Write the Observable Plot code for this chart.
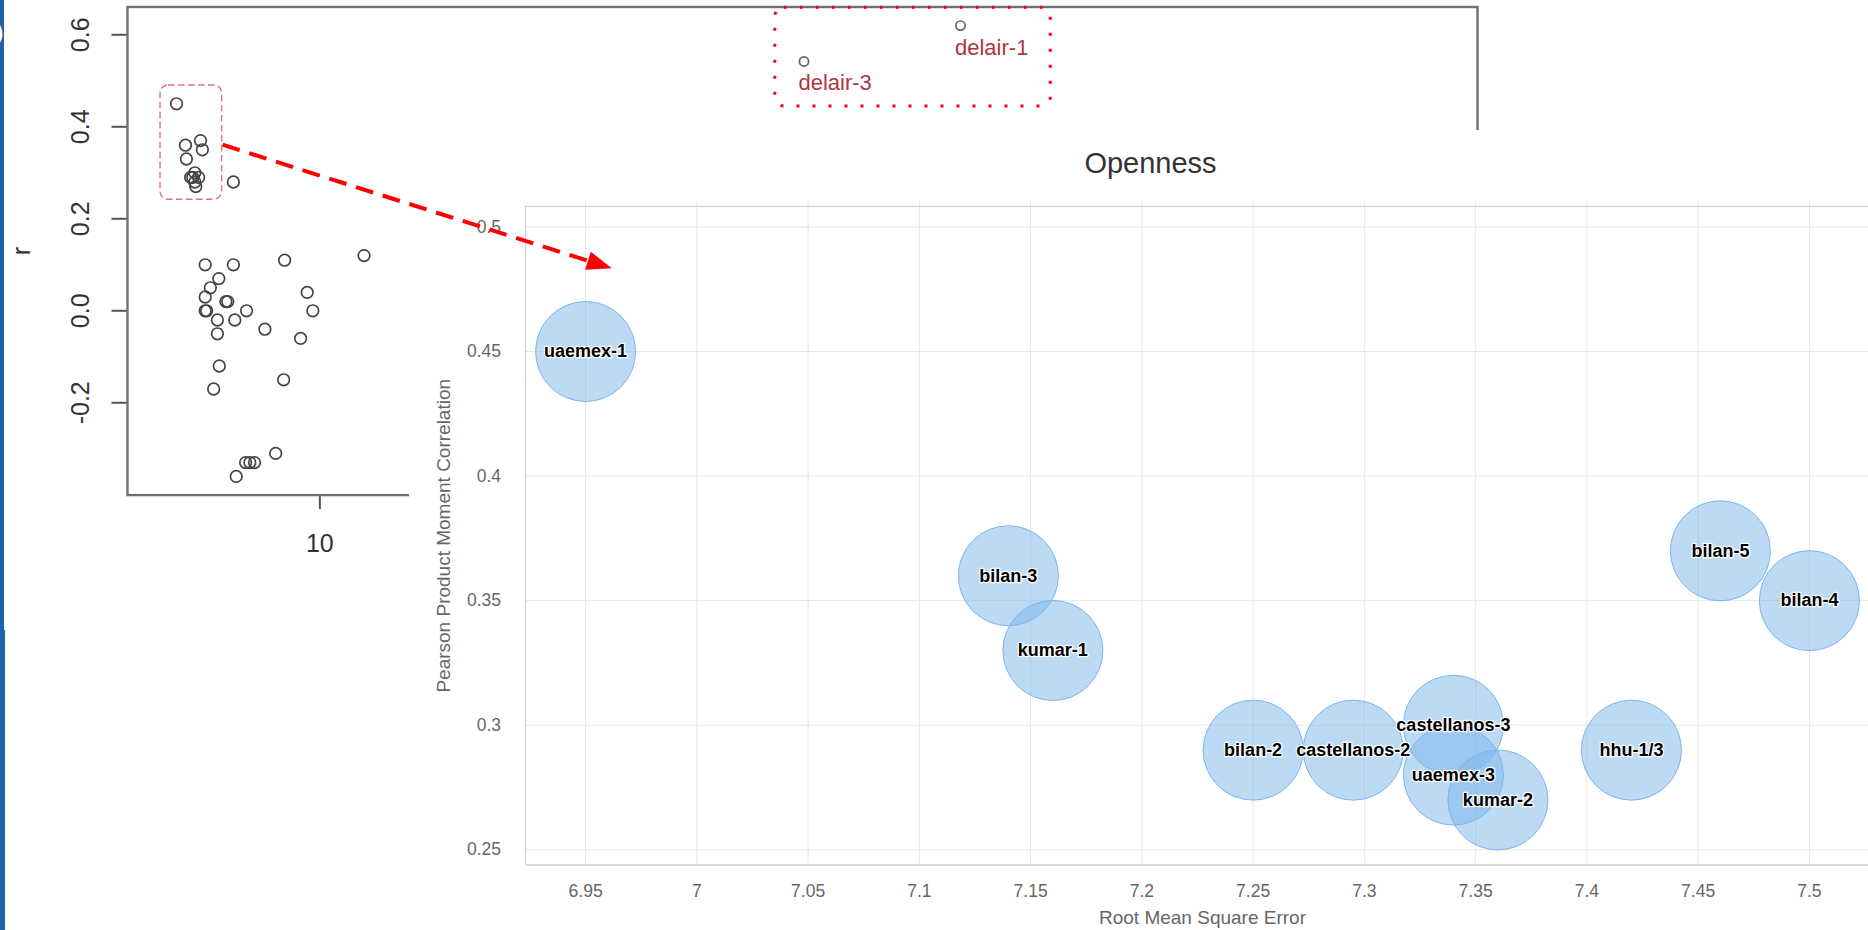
<!DOCTYPE html>
<html>
<head>
<meta charset="utf-8">
<script src="https://cdn.jsdelivr.net/npm/d3@7"></script>
<script src="https://cdn.jsdelivr.net/npm/@observablehq/plot@0.6"></script>
<style>
  html, body { margin: 0; padding: 0; background: #fff; overflow: hidden; }
  #stage { position: relative; width: 1868px; height: 930px; overflow: hidden; background: #fff; }
  #stage > svg { position: absolute; }
  .edge { position: absolute; left: 0; background: #1e63a9; overflow: hidden; }
  .edge span { position: absolute; color: #fff; font: 40px "Liberation Sans", Arial, sans-serif; }
</style>
</head>
<body>
<div id="stage">
  <div class="edge" style="top:0;width:4px;height:630px"><span style="left:-27px;top:12px">O</span></div>
  <div class="edge" style="top:630px;width:5px;height:300px"></div>
</div>
<script>
const FONT = '"Liberation Sans", Arial, Helvetica, sans-serif';

// ---- Openness: RMSE vs. Pearson r for the best-scoring runs ----
const runs    = ["uaemex-1", "bilan-3", "kumar-1", "bilan-2", "castellanos-2", "castellanos-3", "uaemex-3", "kumar-2", "hhu-1/3", "bilan-5", "bilan-4"];
const rmse    = [6.95, 7.14, 7.16, 7.25, 7.295, 7.34, 7.34, 7.36, 7.42, 7.46, 7.50];
const pearson = [0.45, 0.36, 0.33, 0.29, 0.29, 0.30, 0.28, 0.27, 0.29, 0.37, 0.35];

// ---- remaining runs of the overview scatter (RMSE, r) ----
const otherRmse = [8.16, 7.56, 8.16, 7.85, 7.67, 7.56, 7.56, 7.59, 8.00, 8.04, 7.82, 8.19, 8.44, 7.82, 8.83, 9.25, 9.73, 9.85, 9.59, 10.94, 7.86, 7.74, 9.23, 9.06, 8.42, 8.51, 8.61, 8.22];
const otherR    = [0.28, 0.10, 0.10, 0.07, 0.05, 0.03, 0.00, 0.00, 0.02, 0.02, -0.02, -0.02, 0.00, -0.05, -0.04, 0.11, 0.04, 0.00, -0.06, 0.12, -0.12, -0.17, -0.15, -0.31, -0.33, -0.33, -0.33, -0.36];

// ---- outliers called out on the overview ----
const outlierRuns = ["delair-1", "delair-3"];
const outlierRmse = [23.63, 20.30];
const outlierR    = [0.62, 0.542];

// ---- axis ticks ----
const overviewXTicks = [10, 15, 20, 25, 30];
const overviewYTicks = [-0.2, 0, 0.2, 0.4, 0.6];
const insetXTicks = [6.95, 7, 7.05, 7.1, 7.15, 7.2, 7.25, 7.3, 7.35, 7.4, 7.45, 7.5];
const insetYTicks = [0.25, 0.3, 0.35, 0.4, 0.45, 0.5];

// ---- scale extents ----
const overviewXDomain = [5.907, 34.63];
const overviewYDomain = [-0.4007, 0.6604];
const insetXDomain = [6.923, 7.5315];
const insetYDomain = [0.2439, 0.5082];

// ---- callouts, in overview data units ----
const zoomBox    = {x1: 6.61, x2: 7.92, y1: 0.2413, y2: 0.4898};
const outlierBox = {x1: 19.69, x2: 25.55, y1: 0.4441, y2: 0.6587};
const arrowFrom  = [7.94, 0.36];   // overview (RMSE, r)
const arrowTo    = [6.962, 0.4832]; // inset (RMSE, r)

const bubbles = runs.map((run, i) => ({run, rmse: rmse[i], r: pearson[i]}));
const overviewPoints = rmse.map((x, i) => ({x, y: pearson[i]}))
  .concat(otherRmse.map((x, i) => ({x, y: otherR[i]})));
const outliers = outlierRuns.map((run, i) => ({run, x: outlierRmse[i], y: outlierR[i]}));

const stage = document.getElementById("stage");

// ---------- overview scatter (all runs) ----------
const overview = Plot.plot({
  width: 1868,
  height: 560,
  marginLeft: 127,
  marginRight: 391,
  marginTop: 6.5,
  marginBottom: 65.4,
  x: {domain: overviewXDomain, label: null},
  y: {domain: overviewYDomain, label: null},
  style: {background: "transparent", fontFamily: FONT, overflow: "visible"},
  marks: [
    Plot.axisY(overviewYTicks, {tickSize: 15.5, tickFormat: () => "", stroke: "#555", strokeWidth: 2}),
    Plot.text(overviewYTicks, {y: (d) => d, frameAnchor: "left", dx: -46.3, rotate: -90, textAnchor: "middle",
      text: (d) => d.toFixed(1), fontSize: 25, fill: "#333"}),
    Plot.axisX(overviewXTicks, {tickSize: 14.5, tickPadding: 25, fontSize: 25, stroke: "#555",
      strokeWidth: 2, fill: "#333", tickFormat: (d) => String(d)}),
    Plot.text(["r"], {text: (d) => d, frameAnchor: "left", dx: -106, rotate: -90, textAnchor: "middle",
      fontSize: 25, fill: "#333"}),
    Plot.frame({stroke: "#707070", strokeWidth: 2.4}),
    Plot.dot(overviewPoints, {x: "x", y: "y", r: 5.8, stroke: "#444", strokeWidth: 1.7, fill: "none"}),
    Plot.dot(outliers, {x: "x", y: "y", r: 4.6, stroke: "#666", strokeWidth: 1.7, fill: "none"}),
    Plot.text(outliers, {x: "x", y: "y", text: "run", textAnchor: "start", lineAnchor: "bottom",
      dx: -5.5, dy: 29, fontSize: 22, fill: "#b0353f"}),
    Plot.rect([zoomBox], {x1: "x1", x2: "x2", y1: "y1", y2: "y2", fill: "none", stroke: "#e0707a",
      strokeWidth: 1.4, strokeDasharray: "6.5,3.5", rx: 8}),
    Plot.rect([outlierBox], {x1: "x1", x2: "x2", y1: "y1", y2: "y2", fill: "none", stroke: "#ff0000",
      strokeWidth: 3, strokeDasharray: "3,13", rx: 9})
  ]
});
overview.style.left = "0px";
overview.style.top = "0px";
stage.appendChild(overview);

// ---------- inset bubble chart (Openness) ----------
const INSET_LEFT = 409, INSET_TOP = 130;
const fmt = (d) => String(+d.toFixed(2));
const inset = Plot.plot({
  width: 1482,
  height: 800,
  marginLeft: 116,
  marginRight: 12,
  marginTop: 76,
  marginBottom: 65.5,
  x: {domain: insetXDomain, label: null},
  y: {domain: insetYDomain, label: null},
  style: {background: "#fff", fontFamily: FONT, overflow: "visible"},
  marks: [
    Plot.gridX(insetXTicks, {stroke: "#e6e6e6", strokeOpacity: 1, strokeWidth: 1}),
    Plot.gridY(insetYTicks, {stroke: "#e6e6e6", strokeOpacity: 1, strokeWidth: 1}),
    Plot.axisX(insetXTicks, {anchor: "top", tickSize: 6, tickFormat: () => "", stroke: "#e6e6e6"}),
    Plot.frame({stroke: "#d0d0d0", strokeWidth: 1.2}),
    Plot.ruleY([insetYDomain[0]], {stroke: "#ccd6eb", strokeWidth: 1.5}),
    Plot.axisX(insetXTicks, {tickSize: 0, tickPadding: 20, fontSize: 17.5, color: "#666", fill: "#666", tickFormat: fmt}),
    Plot.axisY(insetYTicks, {tickSize: 0, tickPadding: 24.5, fontSize: 17.5, color: "#666", fill: "#666", tickFormat: fmt}),
    Plot.dot(bubbles, {x: "rmse", y: "r", r: 50, fill: "#7cb5ec", fillOpacity: 0.5, stroke: "#7cb5ec", strokeWidth: 1}),
    Plot.text(bubbles, {x: "rmse", y: "r", text: "run", fontSize: 18, fontWeight: "bold", fill: "#000",
      stroke: "#fff", strokeWidth: 2.5, paintOrder: "stroke"}),
    Plot.text(["Openness"], {text: (d) => d, frameAnchor: "top", dx: -52, dy: -33.3, lineAnchor: "bottom",
      textAnchor: "middle", fontSize: 29, fill: "#333"}),
    Plot.text(["Root Mean Square Error"], {text: (d) => d, frameAnchor: "bottom", dy: 59.2, lineAnchor: "bottom",
      textAnchor: "middle", fontSize: 19, fill: "#666"}),
    Plot.text(["Pearson Product Moment Correlation"], {text: (d) => d, frameAnchor: "left", dx: -82, rotate: -90,
      textAnchor: "middle", fontSize: 19, fill: "#666", letterSpacing: "0.5px"})
  ]
});
inset.style.left = INSET_LEFT + "px";
inset.style.top = INSET_TOP + "px";
stage.appendChild(inset);

// ---------- dashed arrow linking the zoom box to the inset ----------
const sx = overview.scale("x").apply(arrowFrom[0]);
const sy = overview.scale("y").apply(arrowFrom[1]);
const tx = INSET_LEFT + inset.scale("x").apply(arrowTo[0]);
const ty = INSET_TOP + inset.scale("y").apply(arrowTo[1]);
const ang = Math.atan2(ty - sy, tx - sx);
const headLen = 25, headHalf = 9.5;
const bx = tx - headLen * Math.cos(ang), by = ty - headLen * Math.sin(ang);
const nx = -Math.sin(ang), ny = Math.cos(ang);

const overlay = d3.create("svg")
  .attr("width", 1868).attr("height", 930)
  .style("left", "0px").style("top", "0px").style("pointer-events", "none");
overlay.append("line")
  .attr("x1", sx).attr("y1", sy).attr("x2", bx + 2 * Math.cos(ang)).attr("y2", by + 2 * Math.sin(ang))
  .attr("stroke", "#ff0000").attr("stroke-width", 4).attr("stroke-dasharray", "18,10");
overlay.append("polygon")
  .attr("points", [[tx, ty], [bx + headHalf * nx, by + headHalf * ny], [bx - headHalf * nx, by - headHalf * ny]].map((p) => p.join(",")).join(" "))
  .attr("fill", "#ff0000");
stage.appendChild(overlay.node());
</script>
</body>
</html>
